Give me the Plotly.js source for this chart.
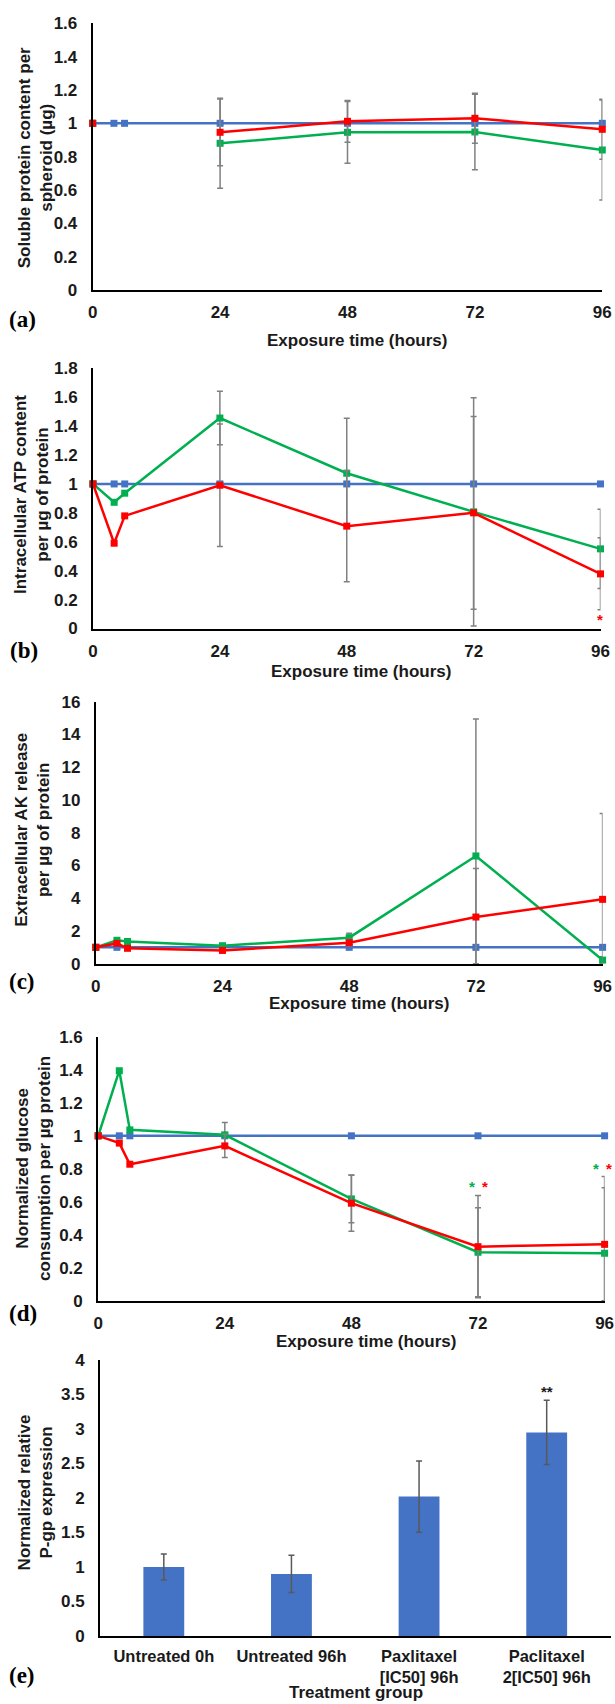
<!DOCTYPE html>
<html>
<head>
<meta charset="utf-8">
<script src="https://cdn.plot.ly/plotly-3.0.1.min.js"></script>
<style>html,body{margin:0;padding:0;background:#fff;}#chart{width:615px;height:1704px;}</style>
</head>
<body>
<div id="chart"></div>
<script>
// ---------- DATA ----------
const hours = [0, 4, 6, 24, 48, 72, 96];
const xTicks = [0, 24, 48, 72, 96];

// (a) Soluble protein content per spheroid
const aControl = [1, 1, 1, 1, 1, 1, 1];
const aGreen   = [1, null, null, 0.88, 0.946, 0.948, 0.84];
const aGreenErr= [0, 0, 0, 0.27, 0.185, 0.227, 0.30];
const aRed     = [1, null, null, 0.946, 1.012, 1.03, 0.964];
const aRedErr  = [0, 0, 0, 0.20, 0.125, 0.15, 0.18];

// (b) Intracellular ATP content
const bControl = [1, 1, 1, 1, 1, 1, 1];
const bGreen   = [1, 0.873, 0.936, 1.456, 1.074, 0.807, 0.551];
const bGreenErr= [0, 0, 0, 0.185, 0.38, 0.79, 0.274];
const bRed     = [1, 0.59, 0.779, 0.991, 0.708, 0.80, 0.378];
const bRedErr  = [0, 0, 0, 0.424, 0.385, 0.666, 0.249];

// (c) Extracellular AK release
const cControl = [1, 1, 1, 1, 1, 1, 1];
const cGreen   = [1.0, 1.43, 1.36, 1.10, 1.59, 6.58, 0.22];
const cGreenErr= [0, 0, 0, 0.1, 0.27, 8.37, 0.2];
const cRed     = [1.0, 1.24, 0.94, 0.81, 1.28, 2.85, 3.93];
const cRedErr  = [0, 0, 0, 0.1, 0.2, 2.97, 5.25];

// (d) Normalized glucose consumption
const dControl = [1, 1, 1, 1, 1, 1, 1];
const dGreen   = [1, 1.394, 1.036, 1.006, 0.618, 0.295, 0.289];
const dGreenErr= [0, 0, 0, 0.075, 0.145, 0.27, 0.396];
const dRed     = [1, 0.956, 0.828, 0.939, 0.592, 0.329, 0.343];
const dRedErr  = [0, 0, 0, 0.07, 0.17, 0.31, 0.41];

// (e) P-gp expression
const eGroups = ["Untreated 0h", "Untreated 96h", "Paxlitaxel<br>[IC50] 96h", "Paclitaxel<br>2[IC50] 96h"];
const eValues = [1.0, 0.90, 2.02, 2.95];
const eErr    = [0.19, 0.27, 0.515, 0.465];

// ---------- STYLE ----------
const W = 615, H = 1704;
const BLUE = '#4472C4', GREEN = '#00B050', RED = '#FF0000', ERR = '#808080';
const SANS = 'Liberation Sans, Arial, sans-serif';
const SERIF = 'Liberation Serif, Times New Roman, serif';
const FS = 17;
const px = v => v / W;
const py = v => 1 - v / H;

function lineTrace(y, err, color, xa, ya) {
  const t = {
    x: hours, y: y, xaxis: xa, yaxis: ya, type: 'scatter', mode: 'lines+markers',
    connectgaps: false, cliponaxis: false, showlegend: false, hoverinfo: 'x+y',
    line: {color: color, width: 2.5},
    marker: {symbol: 'square', size: 7, color: color}
  };
  if (err) {
    t.error_y = {type: 'data', symmetric: false, array: err,
      arrayminus: err.map((e, i) => (y[i] == null ? 0 : Math.min(e, y[i]))),
      color: ERR, thickness: 1.5, width: 3};
  }
  return t;
}

const traces = [
  lineTrace(aControl, null, BLUE, 'x', 'y'),
  lineTrace(aGreen, aGreenErr, GREEN, 'x', 'y'),
  lineTrace(aRed, aRedErr, RED, 'x', 'y'),
  lineTrace(bControl, null, BLUE, 'x2', 'y2'),
  lineTrace(bGreen, bGreenErr, GREEN, 'x2', 'y2'),
  lineTrace(bRed, bRedErr, RED, 'x2', 'y2'),
  lineTrace(cControl, null, BLUE, 'x3', 'y3'),
  lineTrace(cGreen, cGreenErr, GREEN, 'x3', 'y3'),
  lineTrace(cRed, cRedErr, RED, 'x3', 'y3'),
  lineTrace(dControl, null, BLUE, 'x4', 'y4'),
  lineTrace(dGreen, dGreenErr, GREEN, 'x4', 'y4'),
  lineTrace(dRed, dRedErr, RED, 'x4', 'y4'),
  {
    x: eGroups, y: eValues, xaxis: 'x5', yaxis: 'y5', type: 'bar', showlegend: false,
    marker: {color: BLUE},
    error_y: {type: 'data', array: eErr, color: '#595959', thickness: 1.5, width: 3}
  }
];

const tickFont = {family: SANS, size: FS, color: '#1a1a1a', weight: 'bold'};
function xAxis(l, r, anchor) {
  return {
    domain: [px(l), px(r)], anchor: anchor, range: [0, 96], tickvals: xTicks,
    showgrid: false, zeroline: false, showline: true, linecolor: '#000', linewidth: 2,
    ticks: '', tickfont: tickFont, ticklabelstandoff: 6, fixedrange: true
  };
}
function yAxis(top, bottom, anchor, range, dtick) {
  return {
    domain: [py(bottom), py(top)], anchor: anchor, range: range, dtick: dtick,
    showgrid: false, zeroline: false, showline: true, linecolor: '#000', linewidth: 2,
    ticks: '', tickfont: tickFont, ticklabelstandoff: 10, fixedrange: true
  };
}

function yTitle(text, cx, cy) {
  return {xref: 'paper', yref: 'paper', x: px(cx), y: py(cy), text: text, showarrow: false,
    textangle: -90, xanchor: 'center', yanchor: 'middle',
    font: {family: SANS, size: FS, color: '#1a1a1a', weight: 'bold'}};
}
function xTitle(text, cx, cy) {
  return {xref: 'paper', yref: 'paper', x: px(cx), y: py(cy), text: text, showarrow: false,
    xanchor: 'center', yanchor: 'middle',
    font: {family: SANS, size: FS, color: '#1a1a1a', weight: 'bold'}};
}
function panelLabel(text, cx, cy) {
  return {xref: 'paper', yref: 'paper', x: px(cx), y: py(cy), text: text, showarrow: false,
    xanchor: 'center', yanchor: 'middle',
    font: {family: SERIF, size: 23, color: '#000', weight: 'bold'}};
}
function star(text, xa, ya, x, y, color, shift) {
  return {xref: xa, yref: ya, x: x, y: y, text: text, showarrow: false, xshift: shift,
    xanchor: 'center', yanchor: 'middle', font: {family: SANS, size: 15, color: color, weight: 'bold'}};
}

const layout = {
  width: W, height: H, margin: {l: 0, r: 0, t: 0, b: 0},
  paper_bgcolor: '#fff', plot_bgcolor: 'rgba(0,0,0,0)', showlegend: false,
  font: {family: SANS},
  xaxis: xAxis(92.7, 602.3, 'y'),
  yaxis: yAxis(23.3, 290, 'x', [0, 1.6], 0.2),
  xaxis2: xAxis(93, 600.5, 'y2'),
  yaxis2: yAxis(368.3, 628.5, 'x2', [0, 1.8], 0.2),
  xaxis3: xAxis(95.8, 602.6, 'y3'),
  yaxis3: yAxis(701.7, 963.7, 'x3', [0, 16], 2),
  xaxis4: xAxis(98.2, 604.6, 'y4'),
  yaxis4: yAxis(1036.7, 1301, 'x4', [0, 1.6], 0.2),
  xaxis5: {
    domain: [px(100), px(610.5)], anchor: 'y5', type: 'category', range: [-0.5, 3.5],
    showgrid: false, zeroline: false, showline: true, linecolor: '#000', linewidth: 2,
    ticks: '', tickfont: {family: SANS, size: 16.5, color: '#1a1a1a', weight: 'bold'},
    ticklabelstandoff: 4, fixedrange: true
  },
  yaxis5: yAxis(1360, 1636, 'x5', [0, 4], 0.5),
  bargap: 0.68,
  annotations: [
    yTitle('Soluble protein content per<br>spheroid (µg)', 35.3, 158),
    yTitle('Intracellular ATP content<br>per µg of protein', 31, 495),
    yTitle('Extracellular AK release<br>per µg of protein', 31.8, 830),
    yTitle('Normalized glucose<br>consumption per µg protein', 33.4, 1168.5),
    yTitle('Normalized relative<br>P-gp expression', 35.4, 1492),
    xTitle('Exposure time (hours)', 357.3, 341),
    xTitle('Exposure time (hours)', 360.6, 672),
    xTitle('Exposure time (hours)', 358.8, 1004),
    xTitle('Exposure time (hours)', 366, 1341),
    xTitle('Treatment group', 355.7, 1692),
    panelLabel('(a)', 22.5, 319.3),
    panelLabel('(b)', 23.6, 650),
    panelLabel('(c)', 21.6, 981.7),
    panelLabel('(d)', 22.8, 1313),
    panelLabel('(e)', 21.7, 1675),
    star('*', 'x2', 'y2', 96, 0.065, RED, -1),
    star('*', 'x4', 'y4', 72, 0.693, GREEN, -6),
    star('*', 'x4', 'y4', 72, 0.693, RED, 7),
    star('*', 'x4', 'y4', 96, 0.804, GREEN, -9),
    star('*', 'x4', 'y4', 96, 0.804, RED, 4),
    star('**', 'x5', 'y5', 3, 3.54, '#1a1a1a', 0)
  ]
};

Plotly.newPlot('chart', traces, layout, {staticPlot: true, displayModeBar: false});
</script>
</body>
</html>
